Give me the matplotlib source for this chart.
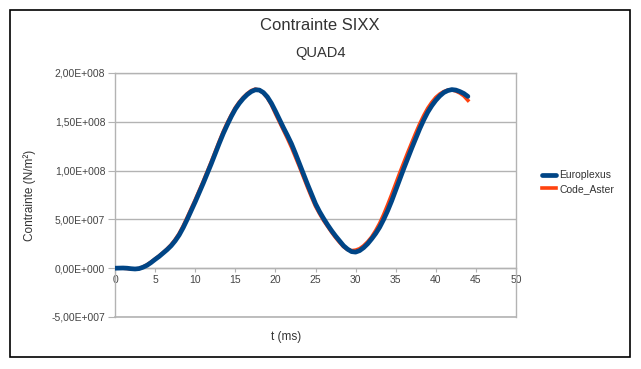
import matplotlib
matplotlib.use("Agg")
import matplotlib.pyplot as plt
from matplotlib.patches import Rectangle

plt.rcParams['font.family'] = ['Liberation Sans', 'DejaVu Sans']

t = [i * 0.5 for i in range(0, 89)]
europlexus = [0, 0.1, 0.2, 0, -0.5, -0.8, -0.4, 1, 3, 5.8,
              9, 12, 15.5, 19, 23, 28, 34, 41.5, 50, 59,
              68, 77.5, 87, 97, 107, 117.5, 128, 138, 147, 155.5,
              163, 169, 174, 178, 181, 182.8, 182.5, 180, 175.5, 169,
              161, 152.5, 144, 136, 127.5, 117.5, 107, 96.5, 86, 76,
              66, 58, 51, 44.5, 38.5, 33, 28, 23, 19.5, 17,
              16.5, 18, 21, 25, 30, 35.5, 42, 50, 59, 69,
              80, 91, 102, 112.5, 123, 133, 143, 152, 160, 166.5,
              172, 176.5, 180, 182, 183, 182.5, 181, 179, 176]
code_aster = [0, 0, 0, -0.3, -0.8, -0.9, -0.3, 1.3, 3.5, 6.3,
              9.5, 12.6, 16, 19.8, 24, 29.3, 35.5, 43.3, 52, 61,
              70, 79.5, 89, 99, 109, 119.5, 130, 140, 149, 157,
              164.5, 170.3, 175, 179, 182, 183.5, 182.5, 179.5, 174.5, 167.5,
              158.5, 150, 141.5, 133, 124, 114, 104, 93.5, 83, 73,
              63.5, 56, 49, 43, 37, 31.5, 26.5, 22, 19, 18,
              18.5, 20, 23, 27, 32, 38.5, 46, 55, 65, 75.5,
              86.5, 97.5, 108, 118.5, 128.5, 138.5, 148, 156.5, 164, 170,
              175, 178.5, 181, 182.5, 182.7, 181.5, 179.5, 176.5, 172]
europlexus = [v * 1e6 for v in europlexus]
code_aster = [v * 1e6 for v in code_aster]
y_ticks = [-5e7, 0, 5e7, 1e8, 1.5e8, 2e8]
y_tick_labels = ['-5,00E+007', '0,00E+000', '5,00E+007', '1,00E+008', '1,50E+008', '2,00E+008']
x_ticks = [0, 5, 10, 15, 20, 25, 30, 35, 40, 45, 50]

W, H = 641, 369
fig = plt.figure(figsize=(W / 100, H / 100), dpi=100)
fig.patches.append(Rectangle((10 / W, 1 - 357 / H), 620 / W, 347 / H,
                             transform=fig.transFigure, fill=False,
                             edgecolor='black', linewidth=1.2))

ax = fig.add_axes([115 / W, 1 - 317 / H, (516 - 115) / W, (317 - 73) / H])
grey = '#b3b3b3'
txt = '#333333'

l2, = ax.plot(t, code_aster, color='#ff420e', linewidth=2.6, zorder=3, label='Code_Aster',
              solid_joinstyle='round')
l1, = ax.plot(t, europlexus, color='#004586', linewidth=3.4, zorder=4, label='Europlexus',
              solid_capstyle='round', solid_joinstyle='round')

ax.set_xlim(0, 50)
ax.set_ylim(-5e7, 2e8)
ax.set_yticks(y_ticks)
ax.set_yticklabels(y_tick_labels)
ax.set_xticks(x_ticks)
ax.set_xticklabels([str(v) for v in x_ticks])
ax.yaxis.grid(True, color=grey, linewidth=1.0)
ax.set_axisbelow(True)
ax.axhline(-5e7, color=grey, linewidth=1.2, clip_on=False, zorder=1)
for s in ['left', 'right', 'top', 'bottom']:
    ax.spines[s].set_color(grey)
    ax.spines[s].set_linewidth(1.0)
ax.spines['bottom'].set_position(('data', 0))
ax.tick_params(axis='y', direction='out', length=5, color=grey, labelsize=7.5,
               labelcolor='#444444', pad=2)
ax.tick_params(axis='x', direction='out', length=3, color=grey, labelsize=7.5,
               labelcolor='#444444', pad=2)

fig.text(320 / W, 1 - 26 / H, 'Contrainte SIXX', ha='center', va='center',
         fontsize=12, color=txt)
fig.text(320 / W, 1 - 53 / H, 'QUAD4', ha='center', va='center',
         fontsize=10.5, color=txt)
fig.text(286 / W, 1 - 337 / H, 't (ms)', ha='center', va='center',
         fontsize=8.5, color=txt)
fig.text(30 / W, 1 - 195 / H, 'Contrainte (N/m²)', ha='center', va='center',
         rotation=90, fontsize=8.5, color=txt)

fig.legend([l1, l2], ['Europlexus', 'Code_Aster'], loc='center left',
           bbox_to_anchor=(533 / W, 1 - 182 / H), frameon=False, fontsize=7.5,
           handlelength=1.3, handletextpad=0.3, labelspacing=0.35, labelcolor=txt)

fig.savefig('out.png', dpi=100)
